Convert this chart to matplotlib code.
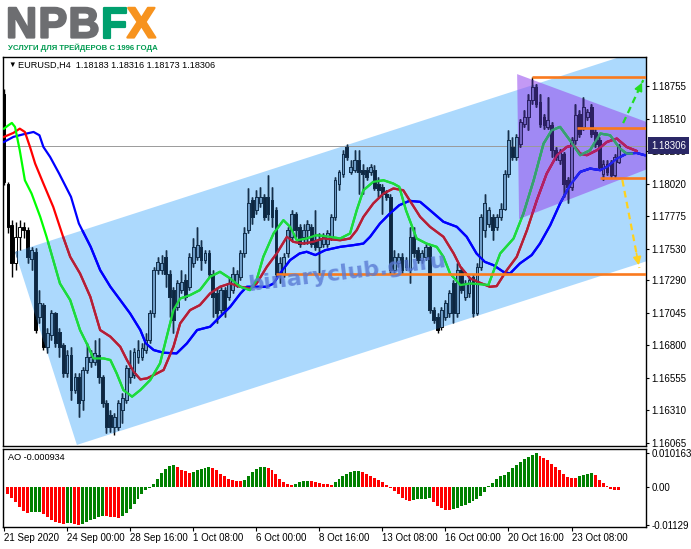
import numpy as np
import matplotlib
matplotlib.use('Agg')
import matplotlib.pyplot as plt
import matplotlib.patheffects as pe
from matplotlib.patches import Polygon, Rectangle
from matplotlib.collections import LineCollection

plt.rcParams['font.family'] = ['Liberation Sans', 'DejaVu Sans']

W, H = 691, 549

# ---------------- EURUSD H4 candles ----------------
opens = [
    1.18698, 1.18020, 1.17706, 1.17418, 1.17619, 1.17694, 1.17669, 1.17455, 1.17506, 1.17016,
    1.17104, 1.16790, 1.16878, 1.17041, 1.16903, 1.16803, 1.16589, 1.16728, 1.16464, 1.16564,
    1.16389, 1.16615, 1.16677, 1.16677, 1.16728, 1.16564, 1.16364, 1.16276, 1.16188, 1.16188,
    1.16313, 1.16389, 1.16564, 1.16577, 1.16715, 1.16715, 1.16765, 1.16840, 1.17041, 1.17368,
    1.17368, 1.17468, 1.17342, 1.17217, 1.17091, 1.17217, 1.17292, 1.17242, 1.17418, 1.17468,
    1.17543, 1.17443, 1.17493, 1.17342, 1.17192, 1.17066, 1.17217, 1.17167, 1.17217, 1.17267,
    1.17317, 1.17493, 1.17669, 1.17895, 1.17819, 1.17870, 1.17920, 1.17920, 1.17895, 1.17819,
    1.17342, 1.17342, 1.17493, 1.17619, 1.17794, 1.17694, 1.17619, 1.17669, 1.17694, 1.17593,
    1.17543, 1.17568, 1.17568, 1.17619, 1.17769, 1.18020, 1.18095, 1.18296, 1.18108, 1.18121,
    1.18196, 1.18121, 1.18121, 1.18108, 1.18121, 1.18020, 1.17995, 1.17945, 1.17920, 1.17368,
    1.17418, 1.17468, 1.17443, 1.17368, 1.17619, 1.17518, 1.17443, 1.17468, 1.17543, 1.17066,
    1.17016, 1.16941, 1.17016, 1.17041, 1.17267, 1.17041, 1.17368, 1.17167, 1.17192, 1.17317,
    1.17041, 1.17393, 1.17669, 1.17719, 1.17769, 1.17694, 1.17769, 1.17832, 1.18095, 1.18296,
    1.18221, 1.18321, 1.18472, 1.18522, 1.18648, 1.18748, 1.18635, 1.18522, 1.18447, 1.18459,
    1.18271, 1.18196, 1.18246, 1.18045, 1.17995, 1.18346, 1.18547, 1.18447, 1.18522, 1.18597,
    1.18409, 1.18346, 1.18095, 1.18171, 1.18171, 1.18083, 1.18183]
highs = [
    1.18736, 1.18033, 1.17744, 1.17732, 1.17744, 1.17732, 1.17694, 1.17543, 1.17531, 1.17217,
    1.17117, 1.16928, 1.17066, 1.17054, 1.16928, 1.16815, 1.16765, 1.16790, 1.16589, 1.16589,
    1.16640, 1.16815, 1.16765, 1.16840, 1.16853, 1.16577, 1.16389, 1.16313, 1.16288, 1.16389,
    1.16439, 1.16652, 1.16765, 1.16778, 1.16840, 1.16815, 1.16891, 1.17066, 1.17393, 1.17468,
    1.17481, 1.17518, 1.17368, 1.17242, 1.17292, 1.17368, 1.17342, 1.17493, 1.17606, 1.17694,
    1.17593, 1.17518, 1.17518, 1.17368, 1.17242, 1.17242, 1.17242, 1.17317, 1.17393, 1.17368,
    1.17518, 1.17694, 1.17983, 1.17920, 1.17970, 1.17995, 1.17945, 1.18083, 1.17995, 1.17844,
    1.17468, 1.17493, 1.17694, 1.17819, 1.17807, 1.17719, 1.17719, 1.17744, 1.17719, 1.17819,
    1.17644, 1.17644, 1.17669, 1.17794, 1.18070, 1.18121, 1.18271, 1.18321, 1.18196, 1.18271,
    1.18271, 1.18171, 1.18146, 1.18171, 1.18158, 1.18070, 1.18020, 1.17970, 1.17945, 1.17518,
    1.17493, 1.17493, 1.17468, 1.17694, 1.17694, 1.17543, 1.17518, 1.17568, 1.17556, 1.17091,
    1.17041, 1.17091, 1.17142, 1.17217, 1.17292, 1.17418, 1.17393, 1.17292, 1.17317, 1.17342,
    1.17418, 1.17794, 1.17945, 1.17844, 1.17794, 1.17794, 1.17870, 1.18121, 1.18422, 1.18372,
    1.18397, 1.18510, 1.18572, 1.18698, 1.18823, 1.18773, 1.18698, 1.18547, 1.18673, 1.18485,
    1.18296, 1.18284, 1.18259, 1.18070, 1.18372, 1.18623, 1.18572, 1.18673, 1.18585, 1.18623,
    1.18434, 1.18372, 1.18196, 1.18196, 1.18196, 1.18246, 1.18316]
lows = [
    1.18008, 1.17644, 1.17317, 1.17368, 1.17518, 1.17606, 1.17418, 1.17368, 1.16891, 1.16966,
    1.16765, 1.16740, 1.16840, 1.16790, 1.16715, 1.16564, 1.16564, 1.16389, 1.16439, 1.16263,
    1.16313, 1.16589, 1.16640, 1.16652, 1.16514, 1.16338, 1.16138, 1.16150, 1.16125, 1.16163,
    1.16213, 1.16364, 1.16514, 1.16552, 1.16665, 1.16690, 1.16740, 1.16815, 1.17016, 1.17342,
    1.17342, 1.17242, 1.17016, 1.16891, 1.17066, 1.17192, 1.17142, 1.17217, 1.17393, 1.17443,
    1.17368, 1.17418, 1.17317, 1.17016, 1.16966, 1.17041, 1.17016, 1.17142, 1.17192, 1.17242,
    1.17292, 1.17468, 1.17644, 1.17719, 1.17794, 1.17844, 1.17744, 1.17744, 1.17694, 1.17317,
    1.17267, 1.17317, 1.17468, 1.17593, 1.17619, 1.17543, 1.17568, 1.17568, 1.17543, 1.17518,
    1.17342, 1.17543, 1.17543, 1.17593, 1.17744, 1.17970, 1.18070, 1.18196, 1.18095, 1.18108,
    1.17945, 1.17945, 1.18045, 1.18083, 1.17970, 1.17920, 1.17794, 1.17895, 1.17342, 1.17342,
    1.17393, 1.17342, 1.17368, 1.17267, 1.17468, 1.17418, 1.17418, 1.17443, 1.17041, 1.16966,
    1.16891, 1.16916, 1.16991, 1.17016, 1.16966, 1.17016, 1.17192, 1.17142, 1.17167, 1.17016,
    1.17029, 1.17368, 1.17619, 1.17694, 1.17593, 1.17669, 1.17744, 1.17819, 1.18070, 1.18196,
    1.18196, 1.18296, 1.18447, 1.18422, 1.18623, 1.18597, 1.18447, 1.18434, 1.18434, 1.18221,
    1.18196, 1.18171, 1.17920, 1.17870, 1.17970, 1.18321, 1.18372, 1.18422, 1.18497, 1.18372,
    1.18296, 1.18121, 1.18045, 1.18083, 1.18070, 1.18070, 1.18173]
closes = [
    1.18033, 1.17694, 1.17418, 1.17619, 1.17694, 1.17669, 1.17468, 1.17518, 1.16916, 1.17117,
    1.16790, 1.16891, 1.17041, 1.16815, 1.16790, 1.16589, 1.16728, 1.16464, 1.16564, 1.16364,
    1.16615, 1.16715, 1.16715, 1.16740, 1.16564, 1.16364, 1.16188, 1.16188, 1.16263, 1.16364,
    1.16401, 1.16627, 1.16627, 1.16753, 1.16765, 1.16778, 1.16840, 1.17041, 1.17368, 1.17430,
    1.17418, 1.17342, 1.17167, 1.16991, 1.17267, 1.17280, 1.17167, 1.17468, 1.17543, 1.17556,
    1.17443, 1.17493, 1.17342, 1.17167, 1.17041, 1.17217, 1.17066, 1.17267, 1.17342, 1.17342,
    1.17493, 1.17644, 1.17870, 1.17769, 1.17920, 1.17920, 1.17769, 1.17794, 1.17769, 1.17342,
    1.17418, 1.17468, 1.17669, 1.17794, 1.17669, 1.17568, 1.17669, 1.17719, 1.17568, 1.17543,
    1.17593, 1.17619, 1.17644, 1.17769, 1.18045, 1.18108, 1.18246, 1.18221, 1.18146, 1.18196,
    1.18108, 1.18095, 1.18070, 1.18146, 1.17983, 1.17970, 1.17945, 1.17920, 1.17368, 1.17468,
    1.17468, 1.17368, 1.17393, 1.17619, 1.17493, 1.17443, 1.17493, 1.17543, 1.17066, 1.16991,
    1.16916, 1.17066, 1.17117, 1.17192, 1.17041, 1.17368, 1.17217, 1.17267, 1.17292, 1.17041,
    1.17393, 1.17769, 1.17870, 1.17819, 1.17669, 1.17769, 1.17832, 1.18095, 1.18346, 1.18221,
    1.18372, 1.18485, 1.18522, 1.18648, 1.18748, 1.18623, 1.18472, 1.18459, 1.18497, 1.18271,
    1.18221, 1.18259, 1.18020, 1.17995, 1.18346, 1.18535, 1.18397, 1.18597, 1.18560, 1.18397,
    1.18321, 1.18146, 1.18171, 1.18108, 1.18083, 1.18221, 1.18306]

# ---------------- Alligator lines (jaw / teeth / lips) ----------------
jaw_x = [0, 2.4, 5, 7.5, 9, 10, 11.7, 14, 17, 19, 22, 24.4, 27, 29.5, 32, 34.6, 36, 38, 40.5, 43.8,
         46.4, 49, 52.3, 54.8, 57.4, 60, 61.6, 66.7, 68.4, 70, 72.6, 75, 76.8, 79, 81.5, 85.3, 88.7,
         91.2, 92.9, 95.4, 97.9, 100.3, 102.9, 105.6, 108.1, 111.5, 114.9, 117.4, 119.9, 122, 124.2,
         126.7, 128.4, 130.9, 133.9, 136, 138.6, 141.1, 143.6, 146.2, 148.7, 151.3, 153, 155.5, 158,
         160.5, 162.6]
jaw_y = [1.18334, 1.18372, 1.18392, 1.18409, 1.18384, 1.18296, 1.18221, 1.18095, 1.17920, 1.17719,
         1.17543, 1.17368, 1.17242, 1.17142, 1.17041, 1.16916, 1.16815, 1.16765, 1.16745, 1.16740,
         1.16815, 1.16916, 1.16941, 1.17016, 1.17091, 1.17192, 1.17242, 1.17242, 1.17267, 1.17342,
         1.17443, 1.17493, 1.17506, 1.17481, 1.17518, 1.17543, 1.17556, 1.17568, 1.17619, 1.17719,
         1.17794, 1.17857, 1.17890, 1.17882, 1.17819, 1.17732, 1.17694, 1.17619, 1.17493, 1.17430,
         1.17405, 1.17355, 1.17342, 1.17418, 1.17481, 1.17568, 1.17706, 1.17870, 1.18008, 1.18108,
         1.18133, 1.18121, 1.18146, 1.18208, 1.18246, 1.18251, 1.18234]
teeth_x = [0, 2.4, 4, 5.3, 6.6, 7.9, 10, 12.5, 15, 16.8, 19.3, 21.9, 24.4, 27, 29.5, 31.2, 32.9, 34.6,
           36.3, 38, 40.5, 43, 44.7, 47.2, 49.7, 52.3, 54.8, 57.4, 60, 62.4, 64.1, 66.7, 69.2, 71.8,
           73.4, 76, 78.5, 81, 85.3, 87.8, 89.5, 91.2, 93.7, 96.3, 98.8, 101.3, 102.9, 105.6, 108.1,
           111.5, 114.1, 115.8, 118.3, 120.8, 123.3, 125, 127.6, 130.1, 132.7, 135.2, 137.7, 140.3,
           142.8, 144.5, 146.2, 147.9, 150.4, 153, 155.5, 158, 160.5]
teeth_y = [1.18372, 1.18402, 1.18434, 1.18409, 1.18296, 1.18171, 1.18020, 1.17844, 1.17619, 1.17468,
           1.17342, 1.17167, 1.16916, 1.16866, 1.16790, 1.16690, 1.16602, 1.16544, 1.16552, 1.16577,
           1.16615, 1.16790, 1.16966, 1.17066, 1.17104, 1.17192, 1.17242, 1.17267, 1.17242, 1.17230,
           1.17267, 1.17393, 1.17493, 1.17619, 1.17581, 1.17568, 1.17581, 1.17606, 1.17593, 1.17606,
           1.17669, 1.17769, 1.17870, 1.17945, 1.17983, 1.17970, 1.17895, 1.17769, 1.17694, 1.17619,
           1.17493, 1.17393, 1.17305, 1.17272, 1.17242, 1.17247, 1.17368, 1.17468, 1.17669, 1.17895,
           1.18095, 1.18234, 1.18296, 1.18309, 1.18246, 1.18234, 1.18271, 1.18334, 1.18359, 1.18296,
           1.18266]
lips_x = [0, 1.1, 2, 2.8, 4, 5.3, 7, 9.2, 10.8, 12.5, 14.2, 16.8, 19.3, 21.4, 22.7, 25.3, 27, 28.6,
          30.3, 32.5, 34.6, 37.1, 39.6, 41.3, 43, 44.7, 47.2, 49.7, 52.3, 54.8, 57.4, 60, 62.4, 64.1,
          65.8, 68.4, 70.9, 72.6, 74.3, 76.8, 79.3, 82.7, 85.3, 87.8, 89.5, 91.2, 93.7, 96.3, 98.8,
          100.3, 102, 104.7, 107.2, 109.8, 111.5, 113.2, 115.8, 118.3, 120.8, 122.9, 125.9, 129.3,
          131.8, 134.4, 136.9, 139, 141.1, 143.6, 146.2, 148.7, 151.3, 153.8, 156.3, 158, 159.3]
lips_y = [1.18434, 1.18459, 1.18477, 1.18447, 1.18271, 1.18045, 1.17945, 1.17769, 1.17619, 1.17443,
          1.17267, 1.17142, 1.16916, 1.16790, 1.16702, 1.16702, 1.16690, 1.16589, 1.16464, 1.16414,
          1.16464, 1.16539, 1.16665, 1.16866, 1.17066, 1.17154, 1.17179, 1.17217, 1.17317, 1.17355,
          1.17305, 1.17242, 1.17217, 1.17292, 1.17468, 1.17644, 1.17744, 1.17694, 1.17593, 1.17606,
          1.17631, 1.17619, 1.17606, 1.17644, 1.17819, 1.17970, 1.18033, 1.18045, 1.18020, 1.17995,
          1.17819, 1.17606, 1.17568, 1.17543, 1.17468, 1.17342, 1.17255, 1.17267, 1.17262, 1.17255,
          1.17493, 1.17606, 1.17794, 1.18045, 1.18321, 1.18422, 1.18447, 1.18346, 1.18234, 1.18271,
          1.18397, 1.18384, 1.18284, 1.18246, 1.18246]

# ---------------- Awesome Oscillator ----------------
ao = [
    -0.0001, -0.0020, -0.0032, -0.0045, -0.0060, -0.0072, -0.0077, -0.0076, -0.0075, -0.0074,
    -0.0080, -0.0090, -0.0100, -0.0105, -0.0108, -0.0110, -0.0109, -0.0108, -0.0112, -0.0113,
    -0.0110, -0.0105, -0.0100, -0.0095, -0.0090, -0.0086, -0.0088, -0.0090, -0.0091, -0.0092,
    -0.0088, -0.0078, -0.0065, -0.0050, -0.0035, -0.0020, -0.0010, -0.0003, 0.0010, 0.0025,
    0.0042, 0.0055, 0.0062, 0.0065, 0.0060, 0.0052, 0.0048, 0.0043, 0.0045, 0.0052,
    0.0055, 0.0058, 0.0060, 0.0057, 0.0050, 0.0040, 0.0032, 0.0025, 0.0020, 0.0018,
    0.0017, 0.0022, 0.0032, 0.0045, 0.0055, 0.0060, 0.0061, 0.0058, 0.0050, 0.0038,
    0.0025, 0.0015, 0.0008, 0.0006, 0.0010, 0.0014, 0.0017, 0.0019, 0.0018, 0.0015,
    0.0012, 0.0010, 0.0008, 0.0007, 0.0015, 0.0025, 0.0032, 0.0040, 0.0045, 0.0048,
    0.0049, 0.0044, 0.0038, 0.0033, 0.0028, 0.0020, 0.0014, 0.0006, -0.0002, -0.0012,
    -0.0022, -0.0032, -0.0038, -0.0041, -0.0038, -0.0037, -0.0036, -0.0035, -0.0034, -0.0045,
    -0.0056, -0.0064, -0.0068, -0.0070, -0.0067, -0.0063, -0.0058, -0.0053, -0.0048, -0.0043,
    -0.0036, -0.0026, -0.0016, 0.0003, 0.0012, 0.0025, 0.0032, 0.0036, 0.0045, 0.0056,
    0.0066, 0.0076, 0.0084, 0.0090, 0.0095, 0.010163, 0.0094, 0.0088, 0.0080, 0.0070,
    0.0060, 0.0050, 0.0040, 0.0030, 0.0028, 0.0027, 0.0032, 0.0036, 0.0040, 0.0041,
    0.0035, 0.0022, 0.0012, 0.0002, -0.0005, -0.0008, -0.000934]

# ---------------- drawn objects ----------------
channel_x = [2.8, 18.5, 190, 190]
channel_y = [1.17504, 1.16050, 1.17693, 1.19297]
triangle_x = [130.2, 130.7, 178.9]
triangle_y = [1.18845, 1.17753, 1.18310]
level_y = [1.18823, 1.18439, 1.18064, 1.17341]
level_x0 = [134, 145.3, 151.3, 69]
arrow_up = [(157.1, 1.18476), (162.2, 1.18800)]
arrow_dn = [(156.9, 1.18047), (161.2, 1.17384)]
bid = 1.18306

price_ticks = [1.18755, 1.18510, 1.18265, 1.18020, 1.17775, 1.17530, 1.17290,
               1.17045, 1.16800, 1.16555, 1.16310, 1.16065]
time_ticks = [0, 16, 32, 48, 64, 80, 96, 112, 128, 144]
time_labels = ['21 Sep 2020', '24 Sep 00:00', '28 Sep 16:00', '1 Oct 08:00', '6 Oct 00:00',
               '8 Oct 16:00', '13 Oct 08:00', '16 Oct 00:00', '20 Oct 16:00', '23 Oct 08:00']

XMIN, XMAX = -0.25, 162.9
YMIN, YMAX = 1.16042, 1.18974

fig = plt.figure(figsize=(W / 100, H / 100), dpi=100)
fig.patch.set_facecolor('white')
ax = fig.add_axes([3 / W, 1 - 446 / H, 643 / W, 389 / H])
ax2 = fig.add_axes([3 / W, 1 - 527 / H, 643 / W, 78 / H])

# objects may spill over the price scale, like in the terminal
spill = Rectangle((3 / W, 1 - 446 / H), 688 / W, 390 / H, transform=fig.transFigure)

chan = Polygon(np.column_stack([channel_x, channel_y]), closed=True,
               fc='#ACD9FD', ec='none', zorder=1)
chan.set_clip_path(spill)
ax.add_patch(chan)
tri = Polygon(np.column_stack([triangle_x, triangle_y]), closed=True,
              fc='#9950EE', ec='none', alpha=0.58, zorder=1.2)
tri.set_clip_path(spill)
ax.add_patch(tri)

ax.axhline(bid, color='#9A9A9A', lw=0.7, zorder=2)

chan_clip = Polygon(np.column_stack([channel_x, channel_y]), closed=True, transform=ax.transData)
tri_clip = Polygon(np.column_stack([triangle_x, triangle_y]), closed=True, transform=ax.transData)

idx = np.arange(len(closes))
o, hi, lo, c = map(np.array, (opens, highs, lows, closes))
up = c >= o


def draw_layer(face_up, face_dn, edge, line_cols, z, clip=None):
    wicks = LineCollection([[(i, a), (i, b)] for i, a, b in zip(idx, lo, hi)],
                           colors=edge, linewidths=1.0, zorder=z)
    ax.add_collection(wicks)
    bars = ax.bar(idx, np.maximum(np.abs(c - o), 0.00004), bottom=np.minimum(o, c), width=0.72,
                  color=np.where(up, face_up, face_dn), edgecolor=edge, linewidth=0.7,
                  zorder=z + 0.01)
    arts = [wicks] + list(bars)
    for (xs, ys), col in zip(((jaw_x, jaw_y), (teeth_x, teeth_y), (lips_x, lips_y)), line_cols):
        ln, = ax.plot(xs, ys, color=col, lw=1.6, zorder=z + 0.05)
        arts.append(ln)
    if clip is not None:
        for a in arts:
            a.set_clip_path(clip)


draw_layer('white', '#000000', '#000000', ['#0000FF', '#FF0000', '#00FF00'], 3)
draw_layer('#6F9CC6', '#0E2640', '#12304E', ['#0000FF', '#B0203A', '#1ED840'], 3.2, chan_clip)
draw_layer('#7466C4', '#2C1F62', '#2C1F62', ['#2424F0', '#B0206A', '#3A9A78'], 3.4, tri_clip)

ax.hlines(level_y, level_x0, XMAX, colors='#FA7A1E', lw=1.9, zorder=4)

for (p0, p1), col in ((arrow_up, '#22DD22'), (arrow_dn, '#FFD21E')):
    ax.plot([p0[0], p1[0]], [p0[1], p1[1]], ls=(0, (3, 2)), color=col, lw=1.6, zorder=5)
    ax.annotate('', xy=p1, xytext=(p0[0] + 0.8 * (p1[0] - p0[0]), p0[1] + 0.8 * (p1[1] - p0[1])),
                arrowprops=dict(arrowstyle='-|>', color=col, lw=1.2, mutation_scale=12),
                zorder=5, annotation_clip=False)

ax.text(87, 1.17350, 'binaryclub.guru', rotation=7, fontsize=16, fontweight='bold',
        family='DejaVu Sans', color='#5A7AD4', alpha=0.8, ha='center', va='center', zorder=6)

ax.set_xlim(XMIN, XMAX)
ax.set_ylim(YMIN, YMAX)
ax.set_xticks([])
ax.yaxis.tick_right()
ax.set_yticks(price_ticks)
ax.set_yticklabels([f'{v:.5f}' for v in price_ticks])
ax.tick_params(axis='y', length=2.5, width=0.8, pad=1.5, labelsize=7)
for s in ax.spines.values():
    s.set_linewidth(1.0)

ax.text((651 - 3) / 643, bid, f'{bid:.5f}', transform=ax.get_yaxis_transform(), ha='left',
        va='center', fontsize=7, color='white', zorder=10, clip_on=False,
        bbox=dict(boxstyle='square,pad=0.35', fc='#2A2766', ec='none'))

# ---------------- AO panel ----------------
ao = np.array(ao)
ao_cols = np.where(np.diff(ao, prepend=ao[0] + 1) > 0, '#008000', '#FF0000')
ax2.bar(idx, ao, width=0.75, color=ao_cols, linewidth=0)
ax2.set_xlim(XMIN, XMAX)
ax2.set_ylim(-0.01196, 0.01136)
ax2.yaxis.tick_right()
ax2.set_yticks([0.010163, 0.0, -0.01129])
ax2.set_yticklabels(['0.010163', '0.00', '-0.01129'])
ax2.set_xticks(time_ticks)
ax2.set_xticklabels(time_labels, ha='left')
ax2.tick_params(axis='y', length=2.5, width=0.8, pad=1.5, labelsize=7)
ax2.tick_params(axis='x', length=3, width=0.8, pad=1.5, labelsize=7)
for s in ax2.spines.values():
    s.set_linewidth(1.0)

# ---------------- texts ----------------
fig.text(8 / W, 1 - 65 / H, '\u25bc', fontsize=5.5, va='center', ha='left', color='black')
fig.text(18 / W, 1 - 65 / H, 'EURUSD,H4  1.18183 1.18316 1.18173 1.18306', fontsize=6.6,
         va='center', ha='left', color='black')
fig.text(8 / W, 1 - 457 / H, 'AO -0.000934', fontsize=6.6, va='center', ha='left')

logo = [('N', 6, '#6D6E71'), ('P', 38.5, '#6D6E71'), ('B', 68.5, '#6D6E71'),
        ('F', 101, '#00A06E'), ('X', 127, '#F7931E')]
for ch, px, col in logo:
    t = fig.text(px / W, 1 - 37.5 / H, ch, fontsize=31, fontweight='bold', color=col,
                 ha='left', va='baseline')
    t.set_path_effects([pe.withStroke(linewidth=1.6, foreground=col)])
fig.text(8 / W, 1 - 50 / H, 'УСЛУГИ ДЛЯ ТРЕЙДЕРОВ С 1996 ГОДА', fontsize=5.6, fontweight='bold',
         color='#009A50', ha='left', va='baseline')

fig.savefig('out.png', dpi=100)
